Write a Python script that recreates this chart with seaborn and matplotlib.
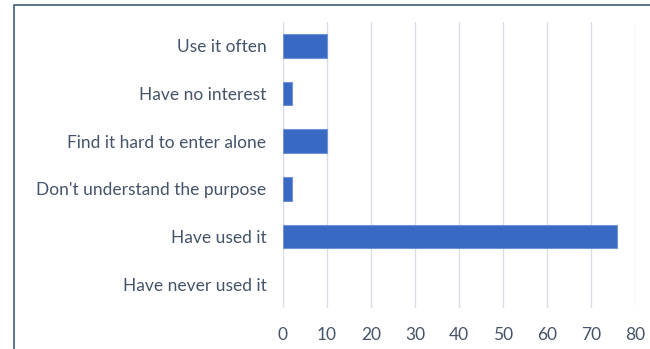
import matplotlib
matplotlib.use("Agg")
import matplotlib.pyplot as plt
import seaborn as sns
import pandas as pd
from matplotlib.patches import Rectangle

categories = ["Use it often", "Have no interest", "Find it hard to enter alone",
              "Don't understand the purpose", "Have used it", "Have never used it"]
values = [10, 2, 10, 2, 76, 0]
xticks = [0, 10, 20, 30, 40, 50, 60, 70, 80]

df = pd.DataFrame({"category": categories, "value": values})

sns.set_theme(style="white")
plt.rcParams['font.family'] = ['Lato', 'DejaVu Sans']

text_color = "#44546a"
fig = plt.figure(figsize=(6.5, 3.49), dpi=100)
ax = fig.add_axes([283/650, 1 - 308/349, (635-283)/650, (308-22)/349])

sns.barplot(data=df, y="category", x="value", orient="h", ax=ax,
            color="#3a69c4", saturation=1, width=0.5,
            edgecolor="#6f93d6", linewidth=0.8)
for p in ax.patches:
    if p.get_width() == 0:
        p.set_visible(False)

ax.set_xlim(0, 80)
ax.set_xticks(xticks)
ax.set_xticklabels([str(t) for t in xticks])
ax.set_ylim(5.5, -0.5)
ax.grid(axis="x", color="#d9dde6", linewidth=1)
ax.set_axisbelow(True)
for s in ax.spines.values():
    s.set_visible(False)
ax.set_xlabel("")
ax.set_ylabel("")
ax.tick_params(axis="both", length=0, colors=text_color, labelsize=12.5)
ax.tick_params(axis="x", pad=14)
ax.tick_params(axis="y", pad=12)

fig.patches.append(Rectangle((14/650, -0.1), 1.2, 1 - 5/349 + 0.1,
                             transform=fig.transFigure, fill=False,
                             edgecolor="#3f5f7f", linewidth=1.2))

fig.savefig("out.png", dpi=100)
